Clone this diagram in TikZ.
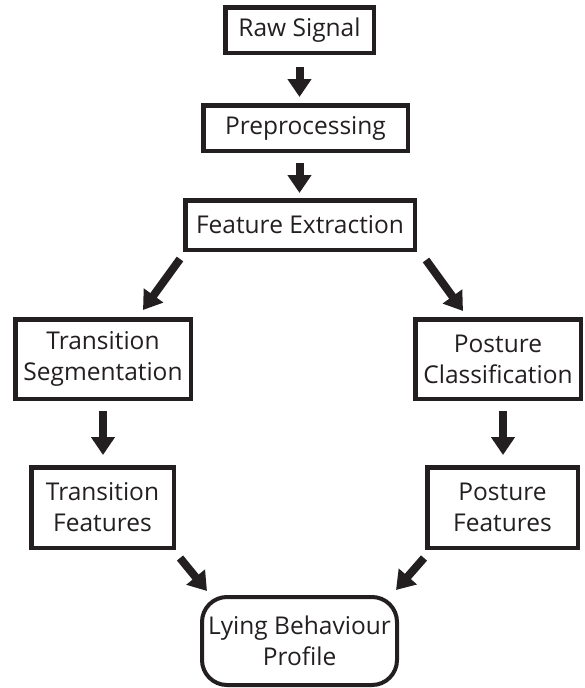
\documentclass[tikz,border=0pt]{standalone}
\usepackage{fontspec}
\setmainfont{Open Sans}
\definecolor{InkBlack}{HTML}{231F20}
\usetikzlibrary{arrows.meta}

\begin{document}
\begin{tikzpicture}[x=1pt, y=-1pt,
    font=\fontsize{24.5}{31}\selectfont,
    color=InkBlack,
    stepbox/.style={shape=rectangle, draw, line width=4.5pt,
      align=center, inner sep=0pt},
    flow/.style={line width=8pt, -{Triangle[width=23pt,length=18pt]}}]
    \useasboundingbox (0,0) rectangle (584,688);

    \node[name=raw, stepbox,
      minimum width=148.5pt, minimum height=45.5pt] at (299.5,30) {Raw Signal};

    \node[name=prep, stepbox,
      minimum width=204.5pt, minimum height=45.5pt] at (305.5,128) {Preprocessing};

    \node[name=feat, stepbox,
      minimum width=229.5pt, minimum height=49.5pt] at (300,225) {Feature Extraction};

    \node[name=tseg, stepbox,
      minimum width=175.5pt, minimum height=79.5pt] at (103,359) {Transition\\Segmentation};

    \node[name=pcls, stepbox,
      minimum width=165.5pt, minimum height=79.5pt] at (498,359) {Posture\\Classification};

    \node[name=tfeat, stepbox,
      minimum width=142.5pt, minimum height=80.5pt] at (102.5,507.5) {Transition\\Features};

    \node[name=pfeat, stepbox,
      minimum width=150.5pt, minimum height=80.5pt] at (502.5,507.5) {Posture\\Features};

    \node[name=lying, stepbox,
      line width=4pt,
      rounded corners=25pt,
      minimum width=195pt, minimum height=88pt] at (299.5,641) {Lying Behaviour\\Profile};

    \draw[flow] ([yshift=-12pt]raw.south) -- ([yshift=6pt]raw.south |- prep.north);
    \draw[flow] ([yshift=-10pt]raw.south |- prep.south) -- ([yshift=5pt]raw.south |- feat.north);
    \draw[flow] ([xshift=-3pt,yshift=-7pt]feat.south west) -- ([xshift=40pt,yshift=7pt]tseg.north);
    \draw[flow] ([xshift=9pt,yshift=-8pt]feat.south east) -- ([xshift=-35pt,yshift=6pt]pcls.north);
    \draw[flow] ([yshift=-10pt]tseg.south) -- ([yshift=10pt]tseg.south |- tfeat.north);
    \draw[flow] ([xshift=5pt,yshift=-10pt]pcls.south) -- ([xshift=5pt,yshift=10pt]pcls.south |- pfeat.north);
    \draw[flow] ([xshift=4pt,yshift=-8pt]tfeat.south east) -- ([xshift=7pt,yshift=4pt]lying.north west);
    \draw[flow] ([xshift=-1pt,yshift=-8pt]pfeat.south west) -- ([xshift=-3pt,yshift=5pt]lying.north east);
  \end{tikzpicture}
\end{document}
